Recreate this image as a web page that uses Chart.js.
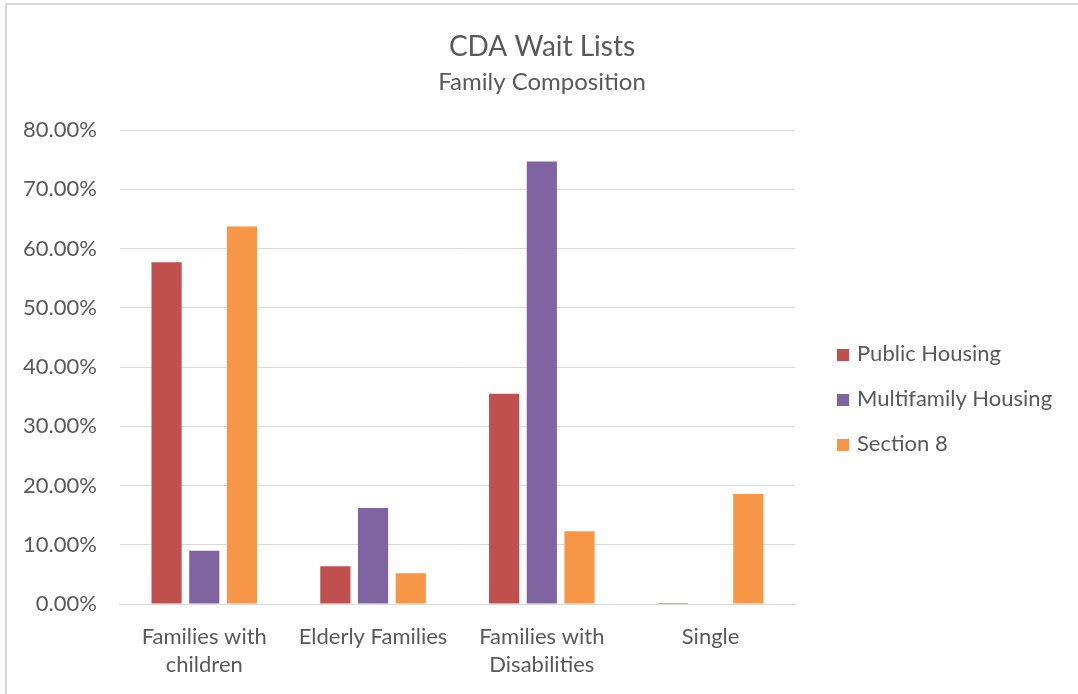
<!DOCTYPE html>
<html>
<head>
<meta charset="utf-8">
<script src="https://cdn.jsdelivr.net/npm/chart.js@4/dist/chart.umd.min.js"></script>
<style>
  html, body { margin: 0; padding: 0; background: #fff; }
  #wrap { width: 1078px; height: 694px; position: relative; }
</style>
</head>
<body>
<div id="wrap"><canvas id="chartWait"></canvas></div>
<script>
// categorias e series
const categorias = [["Families with", "children"], "Elderly Families", ["Families with", "Disabilities"], "Single"];
const publicHousing = [57.7, 6.4, 35.5, 0.2];
const multifamilyHousing = [9.0, 16.2, 74.7, 0];
const section8 = [63.7, 5.2, 12.3, 18.6];
const nomesSeries = ["Public Housing", "Multifamily Housing", "Section 8"];
const cores = ["#C0504D", "#8064A2", "#F79646"];
const titulo = "CDA Wait Lists";
const subtitulo = "Family Composition";

const fonte = "Lato, 'Open Sans', sans-serif";
const cinzaTexto = "#595959";

// titulo, legenda e moldura desenhados a mao
const extras = {
    id: 'extras',
    afterDraw(chart) {
        const ctx = chart.ctx;
        ctx.save();
        ctx.strokeStyle = '#d9d9d9';
        ctx.lineWidth = 2;
        ctx.beginPath();
        ctx.moveTo(6, 700);
        ctx.lineTo(6, 4);
        ctx.lineTo(1080, 4);
        ctx.stroke();

        ctx.fillStyle = cinzaTexto;
        ctx.textAlign = 'center';
        ctx.textBaseline = 'middle';
        ctx.font = "28px " + fonte;
        ctx.fillText(titulo, 542, 47);
        ctx.font = "24px " + fonte;
        ctx.fillText(subtitulo, 542, 82);

        ctx.textAlign = 'left';
        ctx.font = "22px " + fonte;
        chart.data.datasets.forEach((ds, i) => {
            const y = 355 + i * 45;
            ctx.fillStyle = ds.backgroundColor;
            ctx.fillRect(837, y - 6, 12, 12);
            ctx.fillStyle = cinzaTexto;
            ctx.fillText(ds.label, 857, y - 1);
        });
        ctx.restore();
    }
};

const ctx = document.getElementById('chartWait').getContext('2d');
const chart = new Chart(ctx, {
    type: 'bar',
    data: {
        labels: categorias,
        datasets: [
            { label: nomesSeries[0], data: publicHousing, backgroundColor: cores[0] },
            { label: nomesSeries[1], data: multifamilyHousing, backgroundColor: cores[1] },
            { label: nomesSeries[2], data: section8, backgroundColor: cores[2] }
        ]
    },
    options: {
        responsive: true,
        maintainAspectRatio: false,
        animation: false,
        datasets: {
            bar: { categoryPercentage: 0.67, barPercentage: 0.8 }
        },
        layout: { padding: { left: 0, right: 283, top: 130, bottom: 4 } },
        scales: {
            x: {
                grid: { display: false },
                border: { color: '#d9d9d9', width: 1 },
                ticks: { color: cinzaTexto, font: { family: fonte, size: 22, lineHeight: 1.27 }, padding: 11, maxRotation: 0 }
            },
            y: {
                min: 0,
                max: 80,
                grid: { color: '#d9d9d9', drawTicks: false },
                border: { display: false },
                ticks: {
                    stepSize: 10,
                    padding: 23,
                    color: cinzaTexto,
                    font: { family: fonte, size: 22 },
                    callback: v => v.toFixed(2) + '%'
                }
            }
        },
        plugins: {
            legend: { display: false },
            tooltip: { enabled: false },
            title: { display: false }
        }
    },
    plugins: [extras]
});
</script>
</body>
</html>
